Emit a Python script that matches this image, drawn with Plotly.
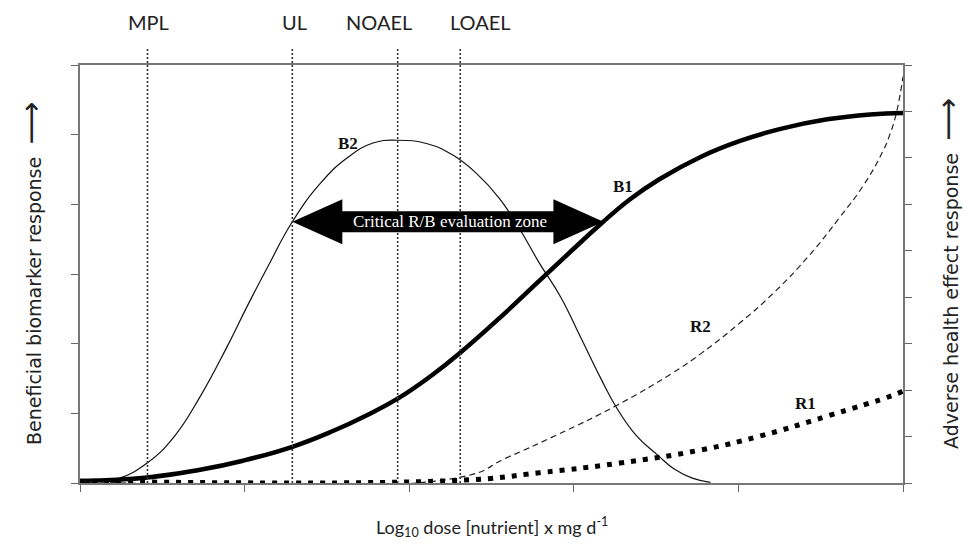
import numpy as np
import plotly.graph_objects as go

# Dose axis in log10 units (0-5); benefit axis 0-6 (left), adverse axis 0-9 (right)

# B1: sustained beneficial biomarker response (left axis)
b1_x = [0.0, 0.41, 0.73, 0.99, 1.29, 1.54, 1.74, 1.93, 2.14, 2.31, 2.55, 2.79, 2.98,
        3.16, 3.34, 3.52, 3.77, 4.01, 4.25, 4.54, 4.80, 5.0]
b1_y = [0.03, 0.08, 0.19, 0.32, 0.52, 0.75, 0.97, 1.21, 1.55, 1.87, 2.37, 2.90, 3.32,
        3.71, 4.07, 4.36, 4.68, 4.91, 5.08, 5.22, 5.29, 5.31]

# B2: transient beneficial biomarker response (left axis)
b2_x = [0.0, 0.12, 0.24, 0.41, 0.57, 0.73, 0.89, 1.01, 1.14, 1.29, 1.46, 1.62, 1.78, 1.93,
        2.11, 2.27, 2.41, 2.55, 2.67, 2.79, 2.92, 3.04, 3.16, 3.26, 3.38, 3.51, 3.61, 3.72, 3.83]
b2_y = [0.02, 0.03, 0.07, 0.29, 0.66, 1.24, 1.94, 2.51, 3.10, 3.75, 4.30, 4.66, 4.88, 4.92,
        4.87, 4.70, 4.44, 4.08, 3.65, 3.16, 2.67, 2.10, 1.52, 1.08, 0.68, 0.40, 0.20, 0.07, 0.01]

# R1: mild adverse health effect (right axis)
r1_x = [0.0, 2.32, 2.79, 3.28, 3.77, 4.13, 4.54, 4.94, 5.0]
r1_y = [0.04, 0.06, 0.22, 0.43, 0.71, 1.01, 1.44, 1.89, 1.98]

# R2: severe adverse health effect (right axis)
r2_x = [0.0, 2.32, 2.59, 2.90, 3.26, 3.60, 3.77, 4.01, 4.21, 4.43, 4.62, 4.76, 4.88, 4.92, 4.96, 5.0]
r2_y = [0.04, 0.13, 0.54, 1.04, 1.67, 2.37, 2.78, 3.45, 4.08, 4.90, 5.74, 6.41, 7.16, 7.50, 7.97, 8.75]

# Reference dose levels
ref_names = ["MPL", "UL", "NOAEL", "LOAEL"]
ref_dose = [0.41, 1.29, 1.93, 2.31]

curve_labels = ["B2", "B1", "R2", "R1"]
curve_label_pos = [(1.63, 4.88, "y"), (3.30, 4.26, "y"), (3.77, 3.36, "y2"), (4.41, 1.72, "y2")]

X_MAX, Y_MAX, Y2_MAX = 5, 6, 9
W, H = 964, 545
ML, MR, MT, MB = 80, 61, 65, 62
plot_w = W - ML - MR
plot_h = H - MT - MB

SANS = "Lato"
SERIF = "Liberation Serif"

fig = go.Figure()

spline = dict(shape="spline", smoothing=1.3, simplify=False)
fig.add_trace(go.Scatter(x=b2_x, y=b2_y, mode="lines", yaxis="y",
                         line=dict(color="#111", width=1.2, **spline)))
fig.add_trace(go.Scatter(x=b1_x, y=b1_y, mode="lines", yaxis="y",
                         line=dict(color="#000", width=4.5, **spline)))
fig.add_trace(go.Scatter(x=r2_x, y=r2_y, mode="lines", yaxis="y2",
                         line=dict(color="#222", width=1.2, dash="6px,4px", **spline)))
fig.add_trace(go.Scatter(x=r1_x, y=r1_y, mode="lines", yaxis="y2",
                         line=dict(color="#000", width=5, dash="5px,7px", **spline)))

# Vertical dotted reference lines with labels above the frame
label_shift = {"MPL": 1, "UL": 2, "NOAEL": -19, "LOAEL": 20}
line_top = 1 + 18 / plot_h
for name, d in zip(ref_names, ref_dose):
    fig.add_shape(type="line", xref="x", yref="paper", x0=d, x1=d, y0=0, y1=line_top,
                  line=dict(color="#333", width=1.6, dash="2px,2px"))
    fig.add_annotation(x=d, y=1 + 43 / plot_h, xref="x", yref="paper", text=name,
                       showarrow=False, xshift=label_shift[name],
                       xanchor="center", yanchor="middle",
                       font=dict(family=SANS, size=20, color="#222"))

# Double-headed arrow spanning from B2 at the UL to where B1 reaches the same level
arrow_y = float(np.interp(ref_dose[1], b2_x, b2_y))
arrow_x0 = ref_dose[1]
arrow_x1 = float(np.interp(arrow_y, b1_y, b1_x))
px_x = X_MAX / plot_w
px_y = Y_MAX / plot_h
head_len = 50 * px_x
shaft_h = 10.5 * px_y
head_h = 22.5 * px_y
pts = [
    (arrow_x0, arrow_y),
    (arrow_x0 + head_len, arrow_y + head_h),
    (arrow_x0 + head_len, arrow_y + shaft_h),
    (arrow_x1 - head_len, arrow_y + shaft_h),
    (arrow_x1 - head_len, arrow_y + head_h),
    (arrow_x1, arrow_y),
    (arrow_x1 - head_len, arrow_y - head_h),
    (arrow_x1 - head_len, arrow_y - shaft_h),
    (arrow_x0 + head_len, arrow_y - shaft_h),
    (arrow_x0 + head_len, arrow_y - head_h),
]
path = "M " + " L ".join(f"{x:.4f},{y:.4f}" for x, y in pts) + " Z"
fig.add_shape(type="path", xref="x", yref="y", path=path, fillcolor="#000",
              line=dict(width=0), layer="above")
fig.add_annotation(x=(arrow_x0 + arrow_x1) / 2 + 2 * px_x, y=arrow_y, xref="x", yref="y",
                   text="Critical R/B evaluation zone", showarrow=False,
                   xanchor="center", yanchor="middle",
                   font=dict(family=SERIF, size=17, color="#fff"))

# Curve labels
for lab, (lx, ly, yr) in zip(curve_labels, curve_label_pos):
    fig.add_annotation(x=lx, y=ly, xref="x", yref=yr, text=f"<b>{lab}</b>", showarrow=False,
                       xanchor="center", yanchor="middle",
                       font=dict(family=SERIF, size=17, color="#111"))

# Axis titles (rotated, reading upward, with a long arrow)
TITLE_FONT = dict(family="DejaVu Sans", size=19, color="#222")
ARROW = "<span style='font-size:30px'>\u27f6</span>"
fig.add_annotation(x=0, y=0.5, xref="paper", yref="paper", xshift=-50,
                   xanchor="center", yanchor="middle",
                   text="Beneficial biomarker response  " + ARROW, textangle=-90,
                   showarrow=False, font=TITLE_FONT)
fig.add_annotation(x=1, y=0.5, xref="paper", yref="paper", xshift=44,
                   xanchor="center", yanchor="middle",
                   text="Adverse health effect response  " + ARROW, textangle=-90,
                   showarrow=False, font=TITLE_FONT)
fig.add_annotation(x=0.5, y=0, xref="paper", yref="paper", yshift=-44,
                   xanchor="center", yanchor="middle",
                   text="Log<sub>10</sub> dose [nutrient] x mg d<sup>-1</sup>", showarrow=False,
                   font=dict(family=SANS, size=18, color="#222"))

axis_common = dict(showgrid=False, zeroline=False, showline=True, linecolor="#777",
                   linewidth=1.6, ticks="outside", tickcolor="#666", ticklen=7,
                   tickwidth=1.2, showticklabels=False, fixedrange=True)

fig.update_layout(
    width=W, height=H,
    margin=dict(l=ML, r=MR, t=MT, b=MB),
    paper_bgcolor="white", plot_bgcolor="white",
    showlegend=False,
    xaxis=dict(range=[0, X_MAX], tickvals=list(range(X_MAX + 1)), mirror=True, **axis_common),
    yaxis=dict(range=[0, Y_MAX], tickvals=list(range(Y_MAX + 1)), **axis_common),
    yaxis2=dict(range=[0, Y2_MAX], tickvals=list(range(Y2_MAX + 1)), overlaying="y",
                side="right", **axis_common),
)

fig.write_html("out.html")
